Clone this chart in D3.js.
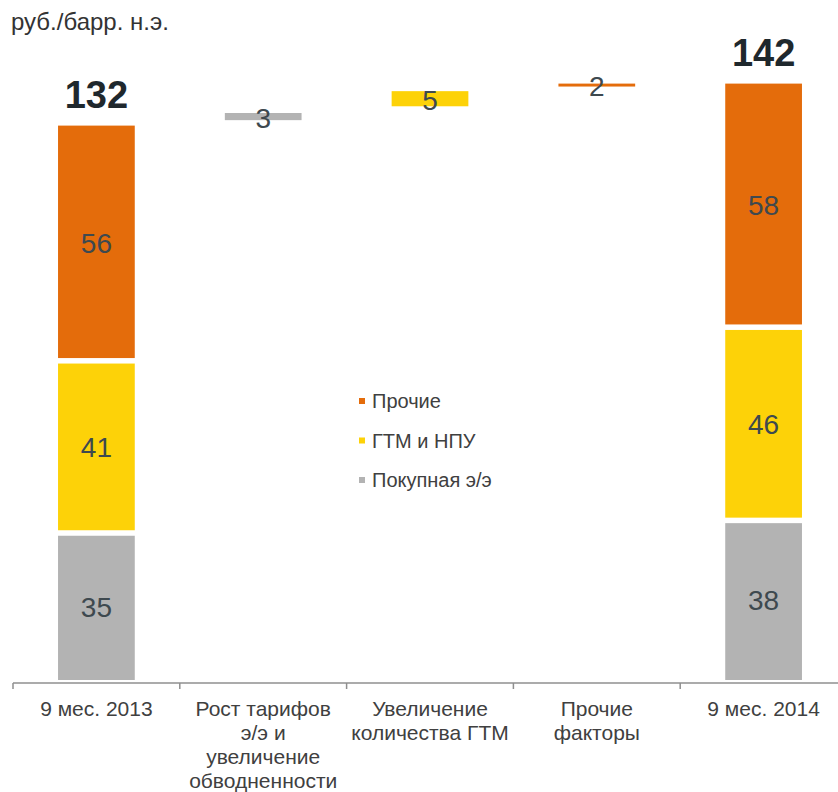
<!DOCTYPE html>
<html>
<head>
<meta charset="utf-8">
<script src="https://cdn.jsdelivr.net/npm/d3@7"></script>
<style>
  body { margin: 0; background: #fff; }
  svg { display: block; font-family: "Liberation Sans", Arial, sans-serif; }
</style>
</head>
<body>
<svg id="chart"></svg>
<script>
const width = 838;
const height = 792;

// categories (multi-line labels)
const categories = [
    ["9 мес. 2013"],
    ["Рост тарифов", "э/э и", "увеличение", "обводненности"],
    ["Увеличение", "количества ГТМ"],
    ["Прочие", "факторы"],
    ["9 мес. 2014"]
];
const seriesNames = ["Покупная э/э", "ГТМ и НПУ", "Прочие"];
const colors = ["#b3b3b3", "#fdd208", "#e46c0b"];

// stacked totals for first and last column
const stack2013 = [35, 41, 56];
const stack2014 = [38, 46, 58];
const totals = [132, 142];

// bridge steps: label value, series index, bar bottom / top as drawn
const stepValues = [3, 5, 2];
const stepSeries = [0, 1, 2];
const stepFrom = [133.3, 136.6, 141.3];
const stepTo = [135.0, 140.2, 142.0];

const svg = d3.select("#chart")
    .attr("width", width)
    .attr("height", height);

const x = d3.scaleBand()
    .domain(d3.range(categories.length))
    .range([13, 847]);

const y = d3.scaleLinear()
    .domain([0, 150])
    .range([680, 50]);

const barW = x.bandwidth() * 0.46;
const cx = i => x(i) + x.bandwidth() / 2;
const gap = 2.75;

// y-axis unit title
svg.append("text")
    .attr("x", 11)
    .attr("y", 30)
    .attr("font-size", 24)
    .attr("fill", "#333")
    .text("руб./барр. н.э.");

// stacked columns
[[0, stack2013], [4, stack2014]].forEach(([col, values]) => {
    let base = 0;
    const segs = values.map((v, i) => {
        const s = { i, y0: base, y1: base + v, v };
        base += v;
        return s;
    });
    const g = svg.append("g");
    g.selectAll("rect")
        .data(segs)
        .enter()
        .append("rect")
        .attr("x", cx(col) - barW / 2)
        .attr("width", barW)
        .attr("y", d => y(d.y1) + (d.i < segs.length - 1 ? gap : 0))
        .attr("height", d => y(d.y0) - y(d.y1) - (d.i > 0 ? gap : 0) - (d.i < segs.length - 1 ? gap : 0))
        .attr("fill", d => colors[d.i]);
    g.selectAll("text")
        .data(segs)
        .enter()
        .append("text")
        .attr("x", cx(col))
        .attr("y", d => y((d.y0 + d.y1) / 2) + 10)
        .attr("text-anchor", "middle")
        .attr("font-size", 28)
        .attr("fill", "#3e494f")
        .text(d => d.v);
    g.append("text")
        .attr("x", cx(col))
        .attr("y", y(base) - 18)
        .attr("text-anchor", "middle")
        .attr("font-size", 38)
        .attr("font-weight", "bold")
        .attr("fill", "#1f282d")
        .text(totals[col === 0 ? 0 : 1]);
});

// bridge steps
const steps = stepValues.map((v, i) => ({ col: i + 1, v, s: stepSeries[i], from: stepFrom[i], to: stepTo[i] }));
svg.append("g")
    .selectAll("rect")
    .data(steps)
    .enter()
    .append("rect")
    .attr("x", d => cx(d.col) - barW / 2)
    .attr("width", barW)
    .attr("y", d => y(d.to))
    .attr("height", d => y(d.from) - y(d.to))
    .attr("fill", d => colors[d.s]);

svg.append("g")
    .selectAll("text")
    .data(steps)
    .enter()
    .append("text")
    .attr("x", d => cx(d.col))
    .attr("y", d => y((d.from + d.to) / 2) + 11)
    .attr("text-anchor", "middle")
    .attr("font-size", 28)
    .attr("fill", "#3e494f")
    .text(d => d.v);

// axis
const axisY = 683;
svg.append("line")
    .attr("x1", x(0))
    .attr("x2", width)
    .attr("y1", axisY)
    .attr("y2", axisY)
    .attr("stroke", "#8f8f8f")
    .attr("stroke-width", 1.5);

svg.append("g")
    .selectAll("line")
    .data(d3.range(categories.length + 1))
    .enter()
    .append("line")
    .attr("x1", d => x(0) + d * x.step())
    .attr("x2", d => x(0) + d * x.step())
    .attr("y1", axisY)
    .attr("y2", axisY + 6)
    .attr("stroke", "#8f8f8f")
    .attr("stroke-width", 1.5);

const label = svg.append("g")
    .selectAll("text")
    .data(categories)
    .enter()
    .append("text")
    .attr("text-anchor", "middle")
    .attr("font-size", 21)
    .attr("fill", "#404040")
    .attr("transform", (d, i) => `translate(${cx(i)},716)`);

label.selectAll("tspan")
    .data(d => d)
    .enter()
    .append("tspan")
    .attr("x", 0)
    .attr("dy", (d, i) => i === 0 ? 0 : 24)
    .text(d => d);

// legend
const legend = svg.append("g")
    .attr("transform", "translate(359,401)");

const legendItems = [2, 1, 0];
const li = legend.selectAll("g")
    .data(legendItems)
    .enter()
    .append("g")
    .attr("transform", (d, i) => `translate(0,${i * 39.5})`);

li.append("rect")
    .attr("x", 0)
    .attr("y", -3)
    .attr("width", 6)
    .attr("height", 6)
    .attr("fill", d => colors[d]);

li.append("text")
    .attr("x", 13)
    .attr("y", 7)
    .attr("font-size", 20)
    .attr("fill", "#404040")
    .text(d => seriesNames[d]);
</script>
</body>
</html>
